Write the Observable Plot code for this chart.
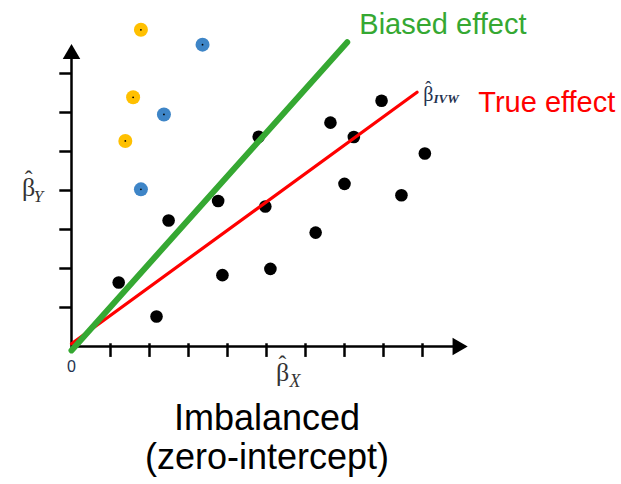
<!DOCTYPE html>
<html>
<head>
<meta charset="utf-8">
<script src="https://cdn.jsdelivr.net/npm/d3@7"></script>
<script src="https://cdn.jsdelivr.net/npm/@observablehq/plot@0.6"></script>
<style>
  body { margin: 0; background: #fff; }
  #wrap { position: relative; width: 621px; height: 484px; overflow: hidden; }
  #title { position: absolute; left: 0; top: 398px; width: 534px; text-align: center;
           font-family: "Liberation Sans", Arial, sans-serif; font-size: 36px; line-height: 39px; color: #000; }
</style>
</head>
<body>
<div id="wrap"><div id="chart"></div><div id="title">Imbalanced<br>(zero-intercept)</div></div>
<script>
// Black variant points (beta_X, beta_Y)
const blackX = [1.21, 2.18, 2.49, 3.76, 3.87, 4.80, 4.97, 5.10, 6.26, 6.64, 7.00, 7.24, 7.95, 8.46, 9.06];
const blackY = [1.64, 0.77, 3.23, 3.73, 1.83, 5.38, 3.59, 1.99, 2.92, 5.74, 4.17, 5.37, 6.30, 3.88, 4.95];
// Yellow outlier points
const yellowX = [1.78, 1.58, 1.38];
const yellowY = [8.12, 6.39, 5.27];
// Blue outlier points
const blueX = [3.36, 2.37, 1.78];
const blueY = [7.74, 5.95, 4.03];
// Lines: biased (green) and true IVW (red)
const biasedLine = [{x: 0, y: -0.1}, {x: 7.07, y: 7.80}];
const trueLine = [{x: 0, y: 0.07}, {x: 8.86, y: 6.52}];
// Axis ticks
const xTicks = [1, 2, 3, 4, 5, 6, 7, 8, 9];
const yTicks = [1, 2, 3, 4, 5, 6, 7];

const black = blackX.map((x, i) => ({x, y: blackY[i]}));
const yellow = yellowX.map((x, i) => ({x, y: yellowY[i]}));
const blue = blueX.map((x, i) => ({x, y: blueY[i]}));
const colored = [...yellow, ...blue];

const serif = "'Liberation Serif', 'Times New Roman', serif";
const sans = "'Liberation Sans', Arial, sans-serif";
const labelInk = "#24324f";

// beta-hat symbol: beta glyph plus a hat drawn above it
function betaHat(x, y, size, ink) {
  return [
    Plot.text([{x, y, t: "β"}], {x: "x", y: "y", text: "t", fontSize: size, fontFamily: serif, fill: ink}),
    Plot.text([{x, y, t: "ˆ"}], {x: "x", y: "y", text: "t", fontSize: size * 0.9, fontFamily: serif, fill: ink, dy: -size * 0.3})
  ];
}

const chart = Plot.plot({
  width: 621,
  height: 398,
  margin: 0,
  x: {type: "linear", domain: [0, 10], range: [71, 461], axis: null},
  y: {type: "linear", domain: [0, 8], range: [346, 34], axis: null},
  marks: [
    // axes
    Plot.ruleY([0], {x1: 0, x2: 9.85, stroke: "#000", strokeWidth: 2.5}),
    Plot.ruleX([0], {y1: -0.08, y2: 7.45, stroke: "#000", strokeWidth: 2.5}),
    Plot.ruleX(xTicks, {y1: 0.07, y2: -0.28, stroke: "#000", strokeWidth: 2.5}),
    Plot.ruleY(yTicks, {x1: -0.3, x2: 0, stroke: "#000", strokeWidth: 2.5}),
    Plot.dot([{x: 9.9, y: 0}], {x: "x", y: "y", symbol: "triangle", rotate: 90, r: 6.5, fill: "#000"}),
    Plot.dot([{x: 0, y: 7.5}], {x: "x", y: "y", symbol: "triangle", r: 6.5, fill: "#000"}),
    // points
    Plot.dot(black, {x: "x", y: "y", r: 6.3, fill: "#000"}),
    Plot.dot(yellow, {x: "x", y: "y", r: 7, fill: "#FFC000"}),
    Plot.dot(blue, {x: "x", y: "y", r: 7, fill: "#3E85C7"}),
    Plot.dot(colored, {x: "x", y: "y", r: 0.9, fill: "#000"}),
    // lines
    Plot.line(trueLine, {x: "x", y: "y", stroke: "#FF0000", strokeWidth: 3.2}),
    Plot.line(biasedLine, {x: "x", y: "y", stroke: "#35A832", strokeWidth: 6}),
    // labels
    Plot.text([{x: 7.38, y: 8.26, t: "Biased effect"}], {x: "x", y: "y", text: "t", textAnchor: "start", fontSize: 29, fontFamily: sans, fill: "#35A832"}),
    Plot.text([{x: 10.43, y: 6.26, t: "True effect"}], {x: "x", y: "y", text: "t", textAnchor: "start", fontSize: 29, fontFamily: sans, fill: "#FF0000"}),
    ...betaHat(9.15, 6.47, 20, labelInk),
    Plot.text([{x: 9.28, y: 6.34, t: "IVW"}], {x: "x", y: "y", text: "t", textAnchor: "start", fontSize: 13, fontStyle: "italic", fontWeight: "bold", fontFamily: serif, fill: labelInk}),
    ...betaHat(-1.10, 4.08, 26, "#333"),
    Plot.text([{x: -0.97, y: 3.85, t: "Y"}], {x: "x", y: "y", text: "t", textAnchor: "start", fontSize: 17, fontStyle: "italic", fontFamily: serif, fill: "#333"}),
    ...betaHat(5.41, -0.66, 26, "#333"),
    Plot.text([{x: 5.59, y: -0.89, t: "X"}], {x: "x", y: "y", text: "t", textAnchor: "start", fontSize: 18, fontStyle: "italic", fontFamily: serif, fill: "#333"}),
    Plot.text([{x: 0, y: -0.51, t: "0"}], {x: "x", y: "y", text: "t", fontSize: 16, fontFamily: sans, fill: labelInk})
  ]
});
document.getElementById("chart").appendChild(chart);
</script>
</body>
</html>
